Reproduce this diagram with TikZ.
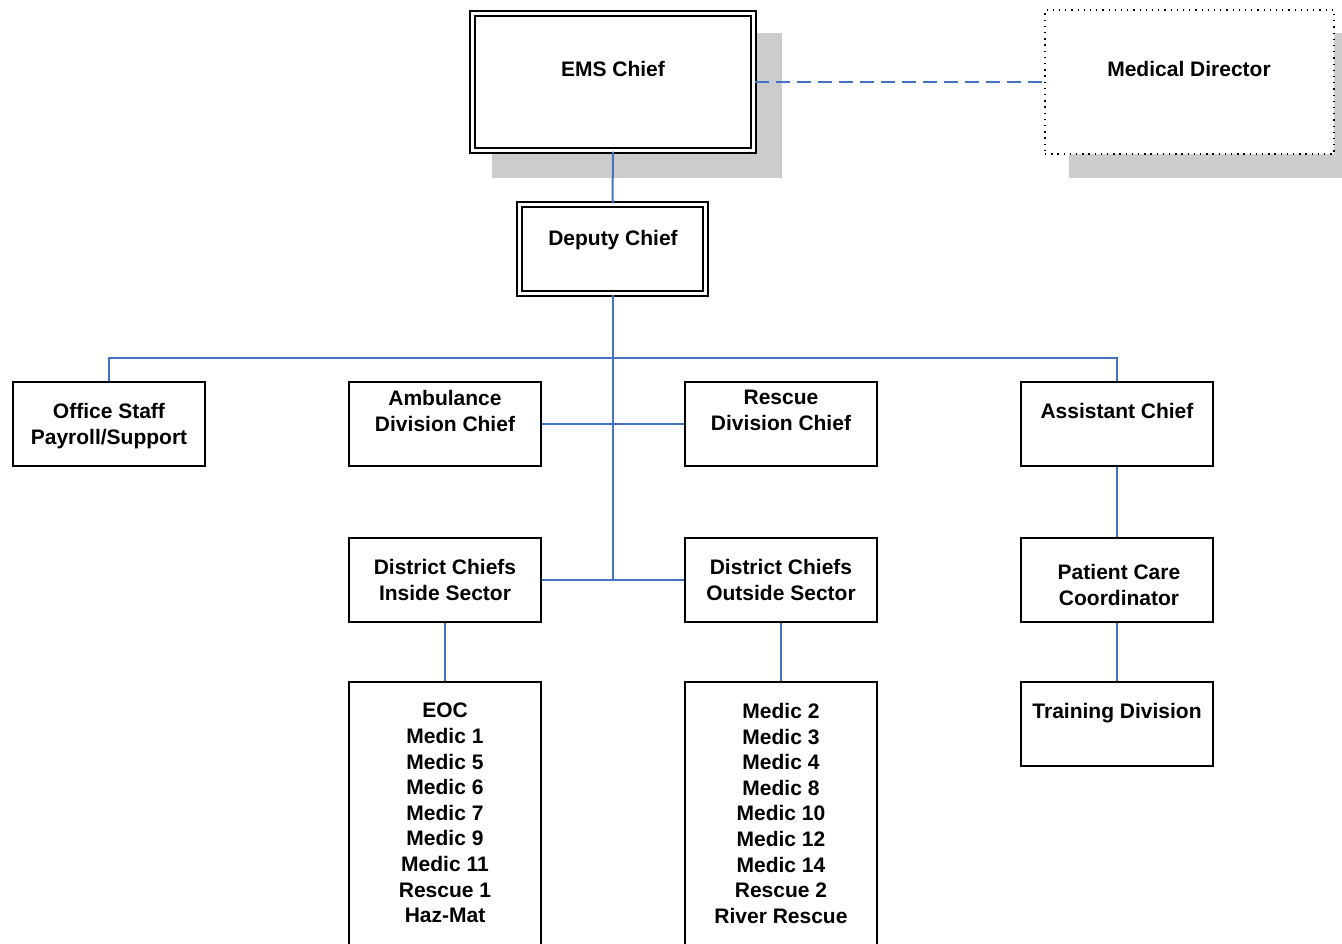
\documentclass[tikz,border=0pt]{standalone}
\usepackage{fontspec}
\setmainfont{Liberation Sans}
\definecolor{conn}{RGB}{68,114,196}
\definecolor{shad}{RGB}{204,204,204}
\begin{document}
\begin{tikzpicture}[x=1pt,y=-1pt,
  box/.style={draw=black,line width=2pt,fill=white,minimum width=192pt,minimum height=84pt,inner sep=0pt},
  dbox/.style={draw=black,line width=2.2pt,double=white,double distance=2.2pt,fill=white,inner sep=0pt},
  txt/.style={anchor=north,align=center,inner sep=0pt,font=\bfseries\fontsize{21}{25.6}\selectfont},
  link/.style={draw=conn,line width=2pt}]
\useasboundingbox (0,0) rectangle (1342,943);
\begin{scope}
\clip (0,0) rectangle (1342,943);
% shadows
\fill[shad] (492,33) rectangle (782,178);
\fill[shad] (1069,33) rectangle (1345,178);
% top boxes
\node[dbox,minimum width=281pt,minimum height=137pt] (ems) at (613,82) {};
\node[txt] at (613,61) {EMS Chief};
\node[draw=black,line width=1.3pt,dash pattern=on 1.3pt off 4.9pt,fill=white,minimum width=289pt,minimum height=144pt,inner sep=0pt] (md) at (1189.5,82) {};
\node[txt] at (1189,61) {Medical Director};
\node[dbox,minimum width=186pt,minimum height=89pt] (dep) at (612.5,249) {};
\node[txt] at (613,230) {Deputy Chief};
% second row
\node[box] (off) at (109,424) {};
\node[txt] at (109,403) {Office Staff\\Payroll/Support};
\node[box] (amb) at (445,424) {};
\node[txt] at (445,390) {Ambulance\\Division Chief};
\node[box] (resc) at (781,424) {};
\node[txt] at (781,390) {Rescue\\Division Chief};
\node[box] (asst) at (1117,424) {};
\node[txt] at (1117,403) {Assistant Chief};
% third row
\node[box] (dci) at (445,580) {};
\node[txt] at (445,559) {District Chiefs\\Inside Sector};
\node[box] (dco) at (781,580) {};
\node[txt] at (781,559) {District Chiefs\\Outside Sector};
\node[box] (pcc) at (1117,580) {};
\node[txt] at (1119,564) {Patient Care\\Coordinator};
% fourth row
\node[box,minimum height=300pt] (units1) at (445,832) {};
\node[txt] at (445,703) {EOC\\Medic 1\\Medic 5\\Medic 6\\Medic 7\\Medic 9\\Medic 11\\Rescue 1\\Haz-Mat};
\node[box,minimum height=300pt] (units2) at (781,832) {};
\node[txt] at (781,703) {Medic 2\\Medic 3\\Medic 4\\Medic 8\\Medic 10\\Medic 12\\Medic 14\\Rescue 2\\River Rescue};
\node[box] (train) at (1117,724) {};
\node[txt] at (1117,703) {Training Division};
% connectors
\coordinate (bus) at (613,358);
\draw[link,dash pattern=on 14pt off 7pt] (ems.east) -- (md.west);
\draw[link] (ems.south) -- (dep.north);
\draw[link] (dep.south) -- (dep.south |- dci.east);
\draw[link] (off.north) |- (bus) -| (asst.north);
\draw[link] (amb.east) -- (resc.west);
\draw[link] (dci.east) -- (dco.west);
\draw[link] (asst.south) -- (pcc.north);
\draw[link] (pcc.south) -- (train.north);
\draw[link] (dci.south) -- (units1.north);
\draw[link] (dco.south) -- (units2.north);
\end{scope}
\end{tikzpicture}
\end{document}
